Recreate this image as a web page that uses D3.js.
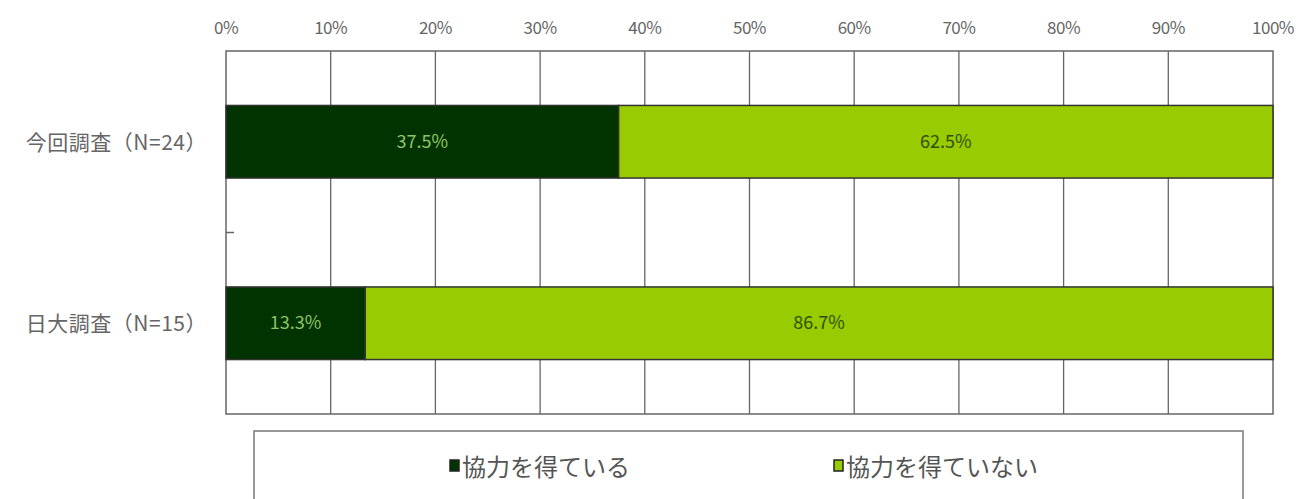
<!DOCTYPE html>
<html><head><meta charset="utf-8">
<script src="https://cdn.jsdelivr.net/npm/d3@7"></script>
<style>
body{margin:0;background:#fff;}
svg{display:block;font-family:"Noto Sans CJK JP","Noto Sans",sans-serif;}
</style></head>
<body><svg id="c" width="1301" height="499"></svg>
<script>
const categories = ["今回調査(N=24)", "日大調査(N=15)"];
const categoryLabels = ["今回調査（N=24）", "日大調査（N=15）"];
const seriesNames = ["協力を得ている", "協力を得ていない"];
const seriesA = [37.5, 13.3];
const seriesB = [62.5, 86.7];
const tickValues = [0,10,20,30,40,50,60,70,80,90,100];
const tickLabels = ["0%","10%","20%","30%","40%","50%","60%","70%","80%","90%","100%"];
const colors = ["#003300", "#99cc00"];
const labelColors = ["#8fc46a", "#2f4f00"];

const svg = d3.select("#c");
const L = 226, R = 1273, T = 51, B = 414;
const x = d3.scaleLinear().domain([0,100]).range([L,R]);
const y = d3.scaleBand().domain(categories).range([T,B]).paddingInner(0.6).paddingOuter(0.3);

// plot frame
svg.append("rect").attr("x",L).attr("y",T).attr("width",R-L).attr("height",B-T)
  .attr("fill","#fff").attr("stroke","#666").attr("stroke-width",1.5);

// gridlines
svg.append("g").selectAll("line").data(tickValues.slice(1,-1)).join("line")
  .attr("x1",d=>x(d)).attr("x2",d=>x(d)).attr("y1",T).attr("y2",B)
  .attr("stroke","#666").attr("stroke-width",1.3);

// top axis labels
svg.append("g").selectAll("text").data(tickValues).join("text")
  .attr("x",d=>x(d)).attr("y",34).attr("text-anchor","middle")
  .attr("font-size",17).attr("fill","#666").attr("letter-spacing","-0.5")
  .text((d,i)=>tickLabels[i]);

// category separator tick
const sep = (y(categories[0]) + y.bandwidth() + y(categories[1]))/2;
svg.append("line").attr("x1",L).attr("x2",L+8).attr("y1",sep).attr("y2",sep)
  .attr("stroke","#666").attr("stroke-width",1.5);

// stacked bars
const stack = categories.map((c,i)=>[
  {cat:c, s:0, x0:0, x1:seriesA[i], v:seriesA[i]},
  {cat:c, s:1, x0:seriesA[i], x1:seriesA[i]+seriesB[i], v:seriesB[i]}
]).flat();

svg.append("g").selectAll("rect").data(stack).join("rect")
  .attr("x",d=>x(d.x0)).attr("width",d=>x(d.x1)-x(d.x0))
  .attr("y",d=>y(d.cat)).attr("height",y.bandwidth())
  .attr("fill",d=>colors[d.s]).attr("stroke","#333").attr("stroke-width",1.5);

svg.append("g").selectAll("text").data(stack).join("text")
  .attr("x",d=>(x(d.x0)+x(d.x1))/2).attr("y",d=>y(d.cat)+y.bandwidth()/2+6)
  .attr("text-anchor","middle").attr("font-size",18)
  .attr("fill",d=>labelColors[d.s]).text(d=>d.v.toFixed(1)+"%");

// category labels
svg.append("g").selectAll("text").data(categories).join("text")
  .attr("x",207).attr("y",d=>y(d)+y.bandwidth()/2+8)
  .attr("text-anchor","end").attr("font-size",21).attr("letter-spacing","0.5").attr("fill","#666")
  .text((d,i)=>categoryLabels[i]);

// legend
svg.append("rect").attr("x",254).attr("y",431).attr("width",989).attr("height",80)
  .attr("fill","#fff").attr("stroke","#777").attr("stroke-width",1.5);
const legX = [450, 834];
const lg = svg.append("g").selectAll("g").data(seriesNames).join("g")
  .attr("transform",(d,i)=>`translate(${legX[i]},467)`);
lg.append("rect").attr("x",0).attr("y",-7).attr("width",9).attr("height",11)
  .attr("fill",(d,i)=>colors[i]).attr("stroke","#222").attr("stroke-width",1.5);
lg.append("text").attr("x",12).attr("y",9).attr("font-size",24).attr("fill","#555")
  .text(d=>d);
</script></body></html>
